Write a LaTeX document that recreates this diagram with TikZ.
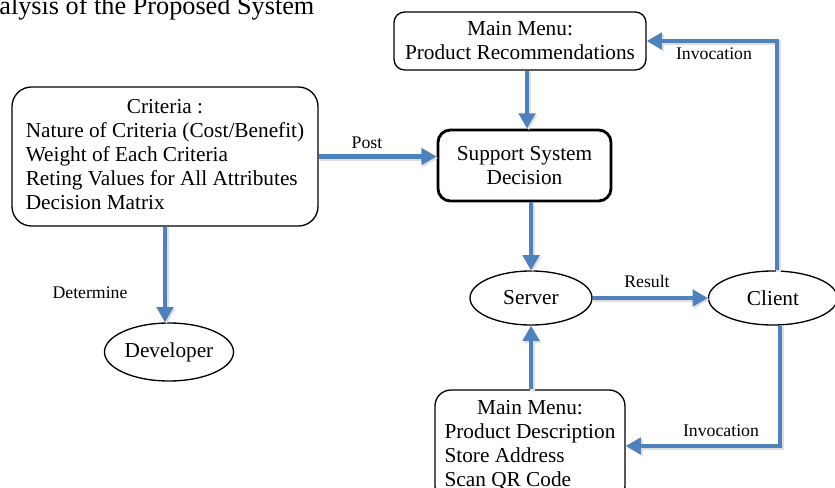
\documentclass[tikz,border=0pt]{standalone}
\usepackage{fontspec}
\setmainfont{Liberation Serif}
\usetikzlibrary{arrows.meta,shapes.geometric,positioning}
\definecolor{arrowblue}{HTML}{4F81BD}
\newcommand\pxs{0.5637pt}
\tikzset{
  box/.style={draw=black, line width=0.75pt, rounded corners=#1, align=center, inner sep=0pt,
    font=\fontsize{12}{13.5}\selectfont},
  box/.default=6pt,
  oval/.style={draw=black, line width=0.75pt, ellipse, inner sep=0pt,
    font=\fontsize{12}{13.5}\selectfont},
  flow/.style={draw=arrowblue, line width=2.8pt, -{Triangle[length=8.6pt,width=9.2pt]},
    preaction={draw=black!13, line width=3.2pt, -{Triangle[length=8.8pt,width=9.6pt]},
      transform canvas={shift={(0.9pt,-0.9pt)}}}},
  lbl/.style={font=\fontsize{10}{12}\selectfont, inner sep=0pt},
}
\begin{document}
\begin{tikzpicture}[x=0.5637pt, y=-0.5637pt]
\useasboundingbox (0,0) rectangle (835,488);
\clip (0,0) rectangle (835,488);
% title (cut off in the reference)
\node[anchor=base west, inner sep=0pt, font=\fontsize{14.8}{16}\selectfont] (title) at (-1,15) {alysis of the Proposed System};
% nodes
\node[box=11pt, minimum width={306*\pxs}, minimum height={139*\pxs}] (crit) at (165,156.5)
  {\begin{tabular}{@{}l@{}}\multicolumn{1}{c}{Criteria :}\\ Nature of Criteria (Cost/Benefit)\\ Weight of Each Criteria\\ Reting Values for All Attributes\\ Decision Matrix\end{tabular}};
\node[box=6pt, minimum width={252*\pxs}, minimum height={58*\pxs}] (top) at (520,41)
  {Main Menu:\\ Product Recommendations};
\node[box=7pt, line width=1.6pt, minimum width={173*\pxs}, minimum height={71*\pxs}] (ssd) at (524.5,165.5)
  {Support System\\ Decision};
\node[oval, minimum width={122*\pxs}, minimum height={54*\pxs}] (server) at (531,298) {Server};
\node[oval, minimum width={129*\pxs}, minimum height={54*\pxs}] (client) at (773,298) {Client};
\node[oval, minimum width={129*\pxs}, minimum height={58*\pxs}] (dev) at (169,352) {Developer};
\node[box=9pt, minimum width={190*\pxs}, minimum height={112*\pxs}] (bot) at (530,446)
  {\begin{tabular}{@{}l@{}}\multicolumn{1}{c}{Main Menu:}\\ Product Description\\ Store Address\\ Scan QR Code\end{tabular}};
% helper coordinates for vertical connectors
\coordinate (ax) at ([xshift=2.5*0.5637pt]ssd.north);
% connectors
\draw[flow] (crit.east) -- (crit.east -| ssd.west);
\draw[flow] (ax |- top.south) -- (ax);
\draw[flow] (server.north |- ssd.south) -- (server.north);
\draw[flow] (server.east) -- (client.west);
\draw[flow] ([xshift=4*0.5637pt]client.north) |- (top.east);
\draw[flow] ([xshift=7*0.5637pt]client.south) |- (bot.east);
\draw[flow] (bot.north -| server.south) -- (server.south);
\draw[flow] (crit.south) -- (crit.south |- dev.north);
% labels
\node[lbl] (lpost) at (367,143) {Post};
\node[lbl] (lres) at (647,281) {Result};
\node[lbl] (linv1) at (714,54) {Invocation};
\node[lbl] (linv2) at (721,431) {Invocation};
\node[lbl] (ldet) at (90,293) {Determine};
\end{tikzpicture}
\end{document}
